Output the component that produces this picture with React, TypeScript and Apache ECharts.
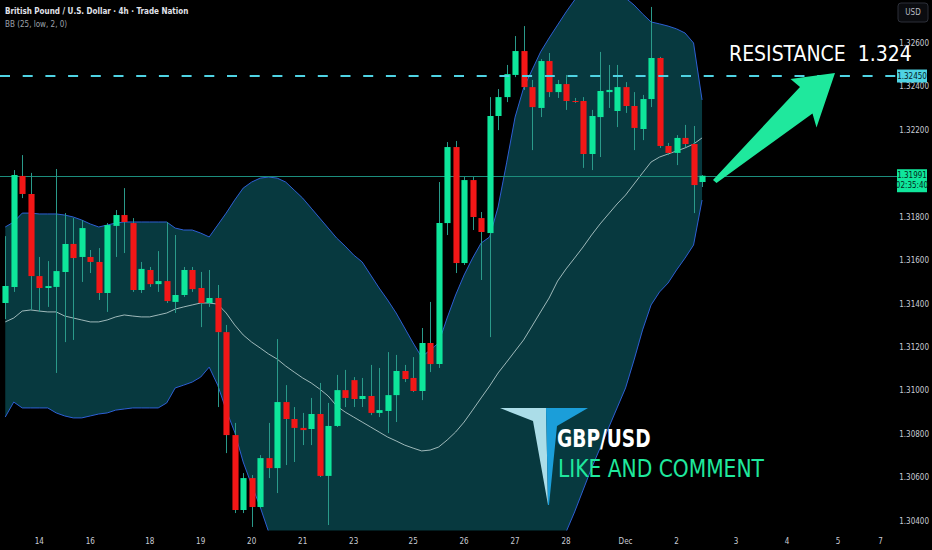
import React, { useEffect, useRef } from "react";
import * as echarts from "echarts";

// ---- data (GBP/USD 4h) ----
const openP = [1.31405,1.31479,1.31990,1.31907,1.31529,1.31474,1.31479,1.31548,1.31677,1.31617,1.31617,1.31594,1.31451,1.31760,1.31810,1.31773,1.31465,1.31557,1.31492,1.31506,1.31410,1.31442,1.31557,1.31474,1.31405,1.31428,1.31271,1.30797,1.30452,1.30599,1.30466,1.30691,1.30645,1.30949,1.30871,1.30830,1.30825,1.30894,1.30609,1.30839,1.31004,1.31050,1.30963,1.30977,1.30899,1.30908,1.30981,1.31092,1.31060,1.31000,1.31221,1.31124,1.31773,1.32123,1.31589,1.31971,1.31796,1.31727,1.32266,1.32353,1.32455,1.32565,1.32399,1.32303,1.32519,1.32376,1.32413,1.32335,1.32335,1.32091,1.32261,1.32376,1.32289,1.32399,1.32312,1.32206,1.32344,1.32533,1.32128,1.32096,1.32165,1.32137,1.31962];
const highP = [1.31713,1.32017,1.32086,1.32004,1.31617,1.31598,1.32022,1.31819,1.31796,1.31787,1.31649,1.31658,1.31773,1.31833,1.31934,1.31796,1.31594,1.31571,1.31644,1.31778,1.31718,1.31571,1.31571,1.31548,1.31557,1.31488,1.31304,1.30853,1.30622,1.30613,1.30705,1.30853,1.31239,1.31027,1.30926,1.30899,1.30968,1.31037,1.30945,1.31074,1.31097,1.31064,1.31060,1.31120,1.31106,1.31179,1.31166,1.31120,1.31156,1.31290,1.31410,1.31962,1.32146,1.32151,1.31985,1.31985,1.31824,1.32353,1.32390,1.32501,1.32634,1.32680,1.32432,1.32528,1.32556,1.32432,1.32455,1.32349,1.32353,1.32294,1.32561,1.32501,1.32501,1.32422,1.32376,1.32363,1.32768,1.32538,1.32142,1.32178,1.32225,1.32220,1.31994];
const lowP = [1.31331,1.31456,1.31888,1.31373,1.31364,1.31387,1.31083,1.31225,1.31235,1.31502,1.31543,1.31419,1.31364,1.31617,1.31635,1.31456,1.31451,1.31479,1.31456,1.31405,1.31359,1.31433,1.31456,1.31294,1.31387,1.30926,1.30714,1.30438,1.30438,1.30374,1.30461,1.30599,1.30530,1.30659,1.30673,1.30751,1.30751,1.30604,1.30383,1.30834,1.30926,1.30926,1.30926,1.30889,1.30880,1.30806,1.30857,1.31041,1.30995,1.30958,1.31087,1.31106,1.31718,1.31543,1.31580,1.31741,1.31511,1.31248,1.32201,1.32330,1.32445,1.32386,1.32109,1.32261,1.32353,1.32349,1.32294,1.32326,1.32027,1.32017,1.32077,1.32303,1.32215,1.32280,1.32109,1.32155,1.32307,1.32119,1.32086,1.32040,1.32123,1.31819,1.31939];
const closeP = [1.31483,1.31994,1.31907,1.31529,1.31474,1.31483,1.31552,1.31677,1.31612,1.31750,1.31594,1.31451,1.31764,1.31810,1.31778,1.31465,1.31562,1.31492,1.31506,1.31414,1.31442,1.31557,1.31469,1.31405,1.31428,1.31271,1.30797,1.30452,1.30599,1.30466,1.30691,1.30645,1.30949,1.30871,1.30830,1.30820,1.30894,1.30609,1.30839,1.31004,1.30968,1.30963,1.30977,1.30899,1.30912,1.30981,1.31092,1.31055,1.31000,1.31221,1.31124,1.31773,1.32123,1.31589,1.31971,1.31801,1.31732,1.32266,1.32353,1.32459,1.32565,1.32399,1.32307,1.32519,1.32376,1.32413,1.32335,1.32333,1.32091,1.32266,1.32381,1.32386,1.32399,1.32312,1.32211,1.32344,1.32533,1.32128,1.32096,1.32165,1.32137,1.31948,1.31991];

// Bollinger Bands (25, low, 2, 0)
const bbUpper = [1.31755,1.31778,1.31819,1.31819,1.31815,1.31815,1.31815,1.31810,1.31801,1.31787,1.31769,1.31755,1.31764,1.31773,1.31778,1.31778,1.31778,1.31778,1.31778,1.31778,1.31750,1.31741,1.31741,1.31727,1.31709,1.31764,1.31819,1.31879,1.31934,1.31962,1.31980,1.31985,1.31980,1.31962,1.31925,1.31888,1.31842,1.31796,1.31750,1.31704,1.31667,1.31626,1.31594,1.31534,1.31474,1.31419,1.31359,1.31290,1.31221,1.31156,1.31189,1.31221,1.31336,1.31442,1.31534,1.31612,1.31681,1.31709,1.31847,1.32050,1.32261,1.32395,1.32478,1.32561,1.32625,1.32685,1.32745,1.32800,1.32837,1.32846,1.32846,1.32841,1.32828,1.32809,1.32777,1.32736,1.32699,1.32690,1.32680,1.32667,1.32648,1.32602,1.32340];
const bbBasis = [1.31318,1.31336,1.31368,1.31373,1.31368,1.31364,1.31364,1.31345,1.31336,1.31327,1.31318,1.31318,1.31327,1.31341,1.31350,1.31345,1.31341,1.31341,1.31350,1.31359,1.31377,1.31387,1.31396,1.31405,1.31405,1.31400,1.31359,1.31304,1.31258,1.31225,1.31198,1.31170,1.31147,1.31115,1.31087,1.31060,1.31037,1.31009,1.30977,1.30931,1.30903,1.30880,1.30857,1.30834,1.30811,1.30788,1.30770,1.30751,1.30737,1.30724,1.30728,1.30742,1.30774,1.30811,1.30857,1.30912,1.30968,1.31023,1.31083,1.31133,1.31184,1.31235,1.31299,1.31364,1.31428,1.31506,1.31562,1.31612,1.31663,1.31718,1.31769,1.31815,1.31861,1.31902,1.31953,1.32004,1.32054,1.32077,1.32091,1.32105,1.32119,1.32137,1.32165];
const bbLower = [1.30880,1.30949,1.30922,1.30922,1.30922,1.30922,1.30899,1.30885,1.30876,1.30876,1.30885,1.30894,1.30899,1.30912,1.30917,1.30922,1.30922,1.30922,1.30922,1.30945,1.31014,1.31027,1.31041,1.31064,1.31110,1.31027,1.30912,1.30811,1.30673,1.30567,1.30466,1.30351,1.30268,1.30199,1.30153,1.30120,1.30093,1.30074,1.30056,1.30047,1.30038,1.30038,1.30038,1.30047,1.30056,1.30065,1.30074,1.30084,1.30084,1.30084,1.30074,1.30056,1.30038,1.30015,1.29992,1.29982,1.29992,1.30010,1.30038,1.30074,1.30111,1.30148,1.30194,1.30240,1.30282,1.30314,1.30351,1.30443,1.30544,1.30645,1.30737,1.30830,1.30922,1.31014,1.31143,1.31281,1.31396,1.31456,1.31497,1.31557,1.31612,1.31672,1.31879];

const xTickLabels = ["14","16","18","19","20","21","23","25","26","27","28","Dec","2","3","4","5","7"];
const xTickIndex = [4,10,17,23,29,35,41,48,54,60,66,73,79,86,92,98,103];
const yTickValues = [1.304,1.306,1.308,1.31,1.312,1.314,1.316,1.318,1.322,1.324,1.326];

const resistanceLevel = 1.3245;
const lastPrice = 1.31991;
const countdown = "02:35:40";
const slotCount = 105;

const NARROW = "'Liberation Sans Narrow', 'DejaVu Sans Condensed', 'Roboto Condensed', sans-serif";
const UP = "#0ee69b";
const DOWN = "#f21717";
const WICK = "#2a9a8a";

export default function App() {
  const ref = useRef<HTMLDivElement>(null);

  useEffect(() => {
    if (!ref.current) return;
    const chart = echarts.init(ref.current, undefined, { renderer: "svg" });
    const categories = Array.from({ length: slotCount }, (_, i) => "s" + i);
    const labelAt: Record<number, string> = {};
    xTickIndex.forEach((k, j) => (labelAt[k] = xTickLabels[j]));
    const candleData = openP.map((o, i) => [i, o, closeP[i], lowP[i], highP[i]]);
    const bandWidth = bbUpper.map((u, i) => u - bbLower[i]);

    chart.setOption({
      animation: false,
      backgroundColor: "#000000",
      grid: { left: 1, top: 0, width: 896, height: 530, containLabel: false },
      xAxis: {
        type: "category",
        data: categories,
        boundaryGap: true,
        axisLine: { show: false },
        axisTick: { show: false },
        splitLine: { show: false },
        axisLabel: {
          interval: (index: number) => labelAt[index] !== undefined,
          formatter: (_v: string, index: number) => labelAt[index] || "",
          color: "#c9ccd4",
          fontSize: 8,
          fontFamily: NARROW,
          margin: 7,
        },
      },
      yAxis: {
        type: "value",
        position: "right",
        min: 1.3036,
        max: 1.328,
        axisLine: { show: false },
        axisTick: { show: false },
        splitLine: { show: false },
        axisLabel: {
          customValues: yTickValues,
          formatter: (v: number) => v.toFixed(5),
          color: "#c9ccd4",
          fontSize: 8,
          fontFamily: NARROW,
          margin: 6,
        },
      },
      series: [
        {
          type: "line",
          name: "lower",
          data: bbLower,
          stack: "bb",
          symbol: "none",
          silent: true,
          lineStyle: { color: "#2d5fd4", width: 1 },
          z: 1,
        },
        {
          type: "line",
          name: "upper",
          data: bandWidth,
          stack: "bb",
          symbol: "none",
          silent: true,
          lineStyle: { color: "#2d5fd4", width: 1 },
          areaStyle: { color: "#07393f", opacity: 1 },
          z: 1,
        },
        {
          type: "line",
          name: "basis",
          data: bbBasis,
          symbol: "none",
          silent: true,
          lineStyle: { color: "#b9cfcf", width: 1, opacity: 0.85 },
          z: 2,
        },
        {
          type: "custom",
          name: "GBPUSD",
          data: candleData,
          encode: { x: 0, y: [1, 2, 3, 4] },
          z: 5,
          renderItem: (_params: any, api: any) => {
            const i = api.value(0);
            const o = api.value(1);
            const c = api.value(2);
            const lo = api.value(3);
            const hi = api.value(4);
            const pO = api.coord([i, o]);
            const pC = api.coord([i, c]);
            const pL = api.coord([i, lo]);
            const pH = api.coord([i, hi]);
            const w = api.size([1, 0])[0] * 0.72;
            const x = Math.round(pO[0]) + 0.5;
            const top = Math.min(pO[1], pC[1]);
            const h = Math.max(1, Math.abs(pO[1] - pC[1]));
            return {
              type: "group",
              children: [
                { type: "line", shape: { x1: x, y1: pH[1], x2: x, y2: pL[1] }, style: { stroke: WICK, lineWidth: 1 } },
                { type: "rect", shape: { x: x - w / 2, y: top, width: w, height: h }, style: { fill: c >= o ? UP : DOWN } },
              ],
            };
          },
        },
      ],
    });

    const yRes = chart.convertToPixel({ yAxisIndex: 0 }, resistanceLevel) as number;
    const yCur = chart.convertToPixel({ yAxisIndex: 0 }, lastPrice) as number;
    const xEnd = 897;

    chart.setOption({
      graphic: [
        { type: "line", shape: { x1: 0, y1: Math.round(yCur) + 0.5, x2: xEnd, y2: Math.round(yCur) + 0.5 }, style: { stroke: "#1c8d7c", lineWidth: 1 }, z: 3 },
        { type: "line", shape: { x1: 0, y1: yRes, x2: xEnd, y2: yRes }, style: { stroke: "#4fd3e3", lineWidth: 2, lineDash: [10, 12.7] }, z: 12 },
        { type: "text", left: 5, top: 7, style: { text: "British Pound / U.S. Dollar · 4h · Trade Nation", fill: "#e0e3ea", font: `600 8px ${NARROW}` } },
        { type: "text", left: 5, top: 20, style: { text: "BB (25, low, 2, 0)", fill: "#9ea2ab", font: `8px ${NARROW}` } },
        { type: "rect", shape: { x: 898, y: 3, width: 30, height: 19, r: 3 }, style: { fill: "#0b0c10", stroke: "#2c2f38", lineWidth: 1 } },
        { type: "text", x: 913, y: 12.5, style: { text: "USD", fill: "#b8bbc4", font: `8px ${NARROW}`, align: "center", verticalAlign: "middle" } },
        { type: "rect", shape: { x: 897, y: yRes - 6.5, width: 30, height: 13 }, style: { fill: "#4fd3e3" }, z: 13 },
        { type: "text", x: 912, y: yRes, style: { text: resistanceLevel.toFixed(5), fill: "#062025", font: `8px ${NARROW}`, align: "center", verticalAlign: "middle" }, z: 14 },
        { type: "rect", shape: { x: 897, y: yCur - 6.5, width: 30, height: 23 }, style: { fill: "#10e69b" }, z: 13 },
        { type: "text", x: 912, y: yCur, style: { text: lastPrice.toFixed(5), fill: "#05261b", font: `8px ${NARROW}`, align: "center", verticalAlign: "middle" }, z: 14 },
        { type: "text", x: 912, y: yCur + 10, style: { text: countdown, fill: "#05261b", font: `8px ${NARROW}`, align: "center", verticalAlign: "middle" }, z: 14 },
        { type: "text", x: 729, y: 54, style: { text: "RESISTANCE  1.324", fill: "#ffffff", font: `21px ${NARROW}`, verticalAlign: "middle" } },
        {
          type: "polygon",
          shape: { points: [[713, 180], [800, 87], [790.5, 79], [835, 73], [816.5, 127.5], [812.5, 113.5], [716.5, 183]] },
          style: { fill: "#1fe89d" },
          z: 20,
        },
        {
          type: "polygon",
          shape: { points: [[500, 408], [546, 408], [546.5, 430], [548, 505], [533, 421]] },
          style: { fill: "#abdde8" },
          z: 20,
        },
        {
          type: "polygon",
          shape: { points: [[546, 408], [588, 408], [557, 426], [549, 505], [548, 505], [546.5, 430]] },
          style: { fill: "#1b9ed9" },
          z: 20,
        },
        { type: "text", x: 557, y: 438, scaleX: 0.86, style: { text: "GBP/USD", fill: "#ffffff", font: `bold 24px ${NARROW}`, verticalAlign: "middle" }, z: 20 },
        { type: "text", x: 558, y: 469, scaleX: 0.9, style: { text: "LIKE AND COMMENT", fill: "#1fe89d", font: `25px ${NARROW}`, verticalAlign: "middle" }, z: 20 },
      ],
    });

    return () => chart.dispose();
  }, []);

  return (
    <div
      ref={ref}
      style={{ position: "fixed", left: 0, top: 0, width: 932, height: 550, background: "#000" }}
    />
  );
}
